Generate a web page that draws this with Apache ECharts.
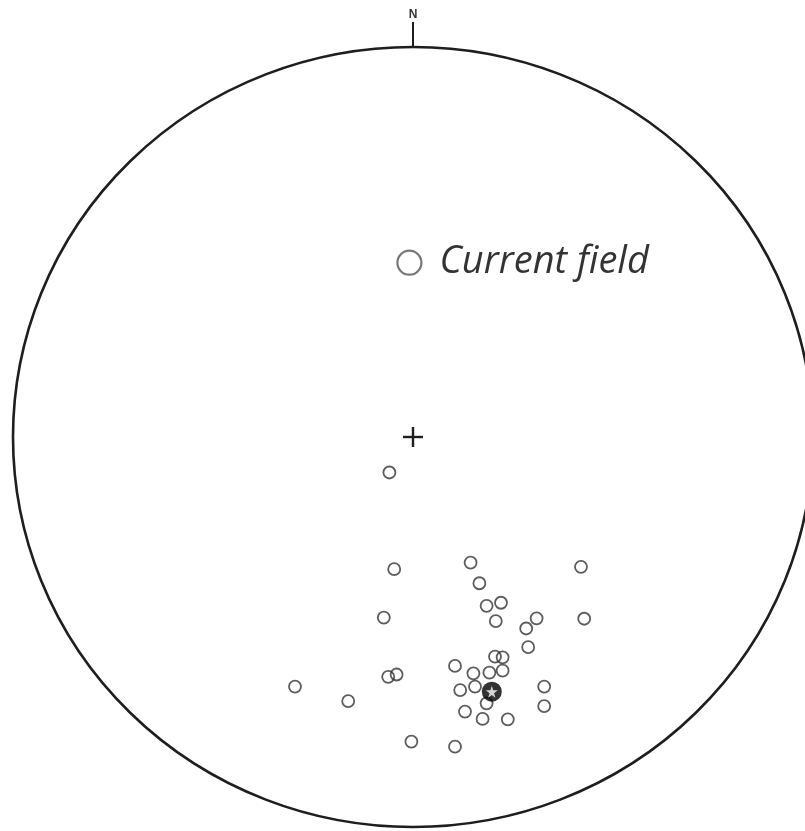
<!DOCTYPE html>
<html>
<head>
<meta charset="utf-8">
<title>Stereonet</title>
<script src="https://cdn.jsdelivr.net/npm/echarts@6/dist/echarts.min.js"></script>
<style>
  html, body { margin: 0; padding: 0; background: #fff; }
  #chart { width: 805px; height: 831px; }
</style>
</head>
<body>
<div id="chart"></div>
<script>
// Projected directions, in units of the net radius (east, north).
const siteDirections = [
  [-0.059, -0.091], [-0.047, -0.339], [-0.073, -0.463], [-0.062, -0.615],
  [-0.041, -0.609], [-0.295, -0.640], [-0.162, -0.677], [-0.004, -0.781],
  [0.144, -0.322], [0.166, -0.375], [0.420, -0.333], [0.184, -0.433],
  [0.220, -0.425], [0.207, -0.472], [0.309, -0.465], [0.283, -0.491],
  [0.428, -0.466], [0.288, -0.539], [0.205, -0.563], [0.224, -0.565],
  [0.105, -0.587], [0.151, -0.606], [0.191, -0.604], [0.224, -0.599],
  [0.118, -0.649], [0.155, -0.640], [0.184, -0.683], [0.328, -0.640],
  [0.328, -0.690], [0.130, -0.704], [0.174, -0.723], [0.237, -0.724],
  [0.105, -0.794]
];
const meanDirection = [[0.197, -0.653]];
const currentField = [[-0.009, 0.447]];
const currentFieldLabel = 'Current field';
const northLabel = 'N';
const netCentre = [[0, 0]];

const chart = echarts.init(document.getElementById('chart'), null, { renderer: 'canvas' });

// Primitive circle, centre cross and north tick, all placed through the axes.
function renderNet(params, api) {
  const c = api.coord([0, 0]);
  const top = api.coord([0, 1]);
  const s = api.size([1, 1]);
  const rx = s[0], ry = s[1];
  const ink = '#1e1e1e';
  return {
    type: 'group',
    children: [
      {
        type: 'path',
        shape: {
          pathData: 'M ' + (c[0] - rx) + ' ' + c[1] +
            ' A ' + rx + ' ' + ry + ' 0 1 0 ' + (c[0] + rx) + ' ' + c[1] +
            ' A ' + rx + ' ' + ry + ' 0 1 0 ' + (c[0] - rx) + ' ' + c[1] + ' Z'
        },
        style: { fill: null, stroke: ink, lineWidth: 2.6 }
      },
      {
        type: 'line',
        shape: { x1: top[0], y1: top[1], x2: top[0], y2: top[1] - 25 },
        style: { stroke: ink, lineWidth: 2 }
      },
      {
        type: 'text',
        x: top[0], y: top[1] - 32,
        style: {
          text: northLabel, fill: '#333', fontSize: 12, fontWeight: 'bold',
          fontFamily: '"Liberation Sans Narrow", "Liberation Sans", sans-serif',
          align: 'center', verticalAlign: 'middle'
        }
      },
      {
        type: 'line',
        shape: { x1: c[0] - 10, y1: c[1], x2: c[0] + 10, y2: c[1] },
        style: { stroke: ink, lineWidth: 2.4 }
      },
      {
        type: 'line',
        shape: { x1: c[0], y1: c[1] - 10, x2: c[0], y2: c[1] + 10 },
        style: { stroke: ink, lineWidth: 2.4 }
      }
    ]
  };
}

chart.setOption({
  backgroundColor: '#fff',
  animation: false,
  // The net's east edge runs just past the right border of the page.
  grid: { left: 13, top: 47, width: 792, height: 780, containLabel: false },
  xAxis: { type: 'value', min: -1, max: 0.98, show: false },
  yAxis: { type: 'value', min: -1, max: 1, show: false },
  series: [
    {
      type: 'custom',
      name: 'net',
      data: netCentre,
      clip: false,
      silent: true,
      renderItem: renderNet
    },
    {
      type: 'scatter',
      name: 'sites',
      data: siteDirections,
      symbol: 'circle',
      symbolSize: 12,
      itemStyle: { color: 'rgba(255,255,255,0)', borderColor: '#333', borderWidth: 1.8 }
    },
    {
      type: 'scatter',
      name: 'mean',
      data: meanDirection,
      symbol: 'circle',
      symbolSize: 20,
      itemStyle: { color: '#000' },
      z: 3
    },
    {
      type: 'scatter',
      name: 'mean star',
      data: meanDirection,
      symbol: 'path://M50,0 L61,35 L98,35 L68,57 L79,91 L50,70 L21,91 L32,57 L2,35 L39,35 Z',
      symbolSize: 12,
      itemStyle: { color: '#fff' },
      z: 4
    },
    {
      type: 'scatter',
      name: 'current',
      data: currentField,
      symbol: 'circle',
      symbolSize: 24,
      itemStyle: { color: 'rgba(255,255,255,0)', borderColor: '#555', borderWidth: 2.2 },
      label: {
        show: true,
        position: 'right',
        distance: 17,
        formatter: currentFieldLabel,
        color: '#000',
        fontSize: 38,
        fontStyle: 'italic',
        fontFamily: '"Open Sans", sans-serif'
      }
    }
  ]
});
</script>
</body>
</html>
